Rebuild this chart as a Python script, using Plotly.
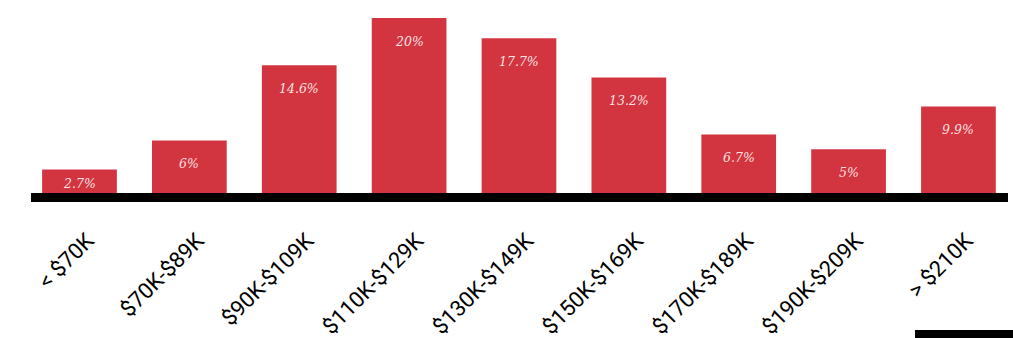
import plotly.graph_objects as go

categories = ["< $70K", "$70K-$89K", "$90K-$109K", "$110K-$129K", "$130K-$149K",
              "$150K-$169K", "$170K-$189K", "$190K-$209K", "> $210K"]
values = [2.7, 6, 14.6, 20, 17.7, 13.2, 6.7, 5, 9.9]
labels = ["2.7%", "6%", "14.6%", "20%", "17.7%", "13.2%", "6.7%", "5%", "9.9%"]

W, H = 1013, 338
ml, mr, mt, mb = 31, W - 1008, 0, H - 193
yr = [0, 193 / 8.75]
px_per_unit = (H - mt - mb) / (yr[1] - yr[0])

bar_color = "#d33540"

fig = go.Figure()
fig.add_trace(go.Bar(x=categories, y=values, marker_color=bar_color,
                     marker_line_width=0, hoverinfo="skip"))

for c, v, t in zip(categories, values, labels):
    hpx = v * px_per_unit
    off = min(23, hpx - 10)
    fig.add_annotation(x=c, y=v, text=t, showarrow=False, yanchor="middle",
                       yshift=-off,
                       font=dict(family="DejaVu Serif", size=12.5, style="italic",
                                 color="rgba(255,240,240,0.95)"))

fig.add_shape(type="rect", xref="paper", yref="paper",
              x0=(915 - ml) / (W - ml - mr), x1=(1013 - ml) / (W - ml - mr),
              y0=-(330 - 193) / 193, y1=-(338 - 193) / 193,
              fillcolor="black", line_width=0)

fig.update_layout(
    width=W, height=H, margin=dict(l=ml, r=mr, t=mt, b=mb, autoexpand=False),
    paper_bgcolor="white", plot_bgcolor="white", showlegend=False,
    bargap=0.32,
    xaxis=dict(range=[-0.4414, 8.451], showline=True, linecolor="black", linewidth=9,
               tickangle=-45, ticks="", ticklabelstandoff=17, ticklabelshift=8,
               automargin=False,
               tickfont=dict(family="Roboto", size=22, color="black"),
               showgrid=False, zeroline=False, fixedrange=True),
    yaxis=dict(range=yr, visible=False, showgrid=False, zeroline=False, automargin=False),
)

fig.write_html("out.html")
